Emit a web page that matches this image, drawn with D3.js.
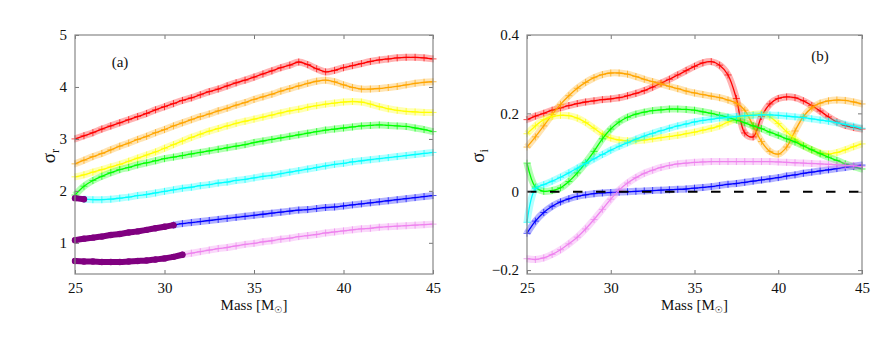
<!DOCTYPE html>
<html>
<head>
<meta charset="utf-8">
<script src="https://cdn.jsdelivr.net/npm/d3@7"></script>
<style>
  body { margin: 0; background: #fff; }
  svg text { font-family: "Liberation Serif", "DejaVu Serif", "Times New Roman", serif; }
</style>
</head>
<body>
<svg id="chart" width="889" height="343"></svg>
<script>
// mass grid shared by all modes
const masses = [25, 25.5, 26, 26.5, 27, 27.5, 28, 28.5, 29, 29.5, 30, 30.5, 31, 31.5, 32, 32.5, 33, 33.5, 34, 34.5,
  35, 35.5, 36, 36.5, 37, 37.5, 38, 38.5, 39, 39.5, 40, 40.5, 41, 41.5, 42, 42.5, 43, 43.5, 44, 44.5, 45];

const xTicks = [25, 30, 35, 40, 45];
const realTicks = [1, 2, 3, 4, 5];
const imagTicks = [-0.2, 0, 0.2, 0.4];

const modeColors = ["#ff0000", "#ffa500", "#ffff00", "#00ff00", "#00ffff", "#0000ff", "#ee82ee"];
const stableColor = "#800080";

// sigma_r (panel a)
const redReal = [3.00, 3.06, 3.12, 3.19, 3.25, 3.31, 3.37, 3.43, 3.49, 3.56, 3.62, 3.68, 3.74, 3.79, 3.85, 3.91, 3.96, 4.02, 4.08, 4.13,
  4.19, 4.25, 4.31, 4.37, 4.42, 4.48, 4.43, 4.35, 4.29, 4.32, 4.37, 4.41, 4.45, 4.49, 4.52, 4.54, 4.56, 4.57, 4.57, 4.56, 4.54];
const orangeReal = [2.52, 2.59, 2.66, 2.72, 2.79, 2.86, 2.92, 2.99, 3.05, 3.12, 3.18, 3.25, 3.31, 3.37, 3.43, 3.48, 3.54, 3.59, 3.65, 3.70,
  3.76, 3.81, 3.86, 3.92, 3.97, 4.02, 4.07, 4.11, 4.13, 4.10, 4.04, 3.99, 3.96, 3.96, 3.97, 3.99, 4.01, 4.04, 4.07, 4.09, 4.10];
const yellowReal = [2.27, 2.31, 2.36, 2.41, 2.46, 2.51, 2.57, 2.63, 2.69, 2.75, 2.82, 2.89, 2.96, 3.03, 3.09, 3.15, 3.20, 3.25, 3.30, 3.34,
  3.38, 3.42, 3.46, 3.50, 3.54, 3.57, 3.61, 3.64, 3.67, 3.69, 3.71, 3.72, 3.71, 3.67, 3.62, 3.58, 3.55, 3.53, 3.52, 3.51, 3.51];
const greenReal = [1.92, 2.09, 2.20, 2.28, 2.35, 2.41, 2.45, 2.50, 2.54, 2.58, 2.62, 2.65, 2.68, 2.71, 2.74, 2.77, 2.80, 2.83, 2.86, 2.89,
  2.93, 2.96, 2.99, 3.02, 3.05, 3.08, 3.11, 3.14, 3.17, 3.19, 3.21, 3.23, 3.25, 3.26, 3.27, 3.26, 3.25, 3.24, 3.21, 3.18, 3.14];
const cyanReal = [1.86, 1.84, 1.83, 1.83, 1.84, 1.86, 1.88, 1.91, 1.93, 1.96, 1.99, 2.02, 2.05, 2.07, 2.10, 2.12, 2.15, 2.17, 2.20, 2.22,
  2.25, 2.28, 2.30, 2.33, 2.36, 2.39, 2.42, 2.45, 2.48, 2.51, 2.53, 2.56, 2.58, 2.60, 2.62, 2.64, 2.66, 2.68, 2.70, 2.72, 2.74];
const blueReal = [1.05, 1.08, 1.10, 1.12, 1.15, 1.17, 1.20, 1.22, 1.25, 1.28, 1.31, 1.34, 1.37, 1.39, 1.41, 1.43, 1.45, 1.47, 1.49, 1.51,
  1.53, 1.55, 1.57, 1.59, 1.61, 1.63, 1.64, 1.66, 1.68, 1.69, 1.71, 1.73, 1.75, 1.77, 1.79, 1.81, 1.83, 1.85, 1.87, 1.89, 1.91];
const violetReal = [0.65, 0.64, 0.64, 0.63, 0.63, 0.63, 0.64, 0.65, 0.66, 0.68, 0.70, 0.73, 0.77, 0.80, 0.83, 0.86, 0.89, 0.91, 0.94, 0.97,
  0.99, 1.02, 1.04, 1.07, 1.09, 1.12, 1.14, 1.16, 1.19, 1.21, 1.23, 1.25, 1.27, 1.28, 1.30, 1.31, 1.32, 1.33, 1.34, 1.35, 1.36];
// mass up to which each mode is drawn as stable (purple) in panel a
const stableUntil = [null, null, null, null, 25.5, 30.5, 31];

// sigma_i (panel b)
const redImag = [0.184, 0.193, 0.200, 0.208, 0.214, 0.220, 0.225, 0.229, 0.232, 0.235, 0.237, 0.240, 0.245, 0.251, 0.258, 0.267, 0.277, 0.287, 0.298, 0.309,
  0.320, 0.329, 0.332, 0.323, 0.298, 0.238, 0.150, 0.140, 0.192, 0.224, 0.238, 0.242, 0.240, 0.232, 0.220, 0.206, 0.191, 0.178, 0.169, 0.164, 0.160];
const orangeImag = [0.114, 0.140, 0.168, 0.197, 0.223, 0.245, 0.264, 0.279, 0.291, 0.299, 0.303, 0.303, 0.300, 0.294, 0.287, 0.281, 0.275, 0.269, 0.263, 0.257,
  0.252, 0.248, 0.244, 0.240, 0.234, 0.226, 0.208, 0.168, 0.128, 0.103, 0.096, 0.114, 0.155, 0.192, 0.214, 0.226, 0.232, 0.234, 0.233, 0.229, 0.224];
const yellowImag = [0.148, 0.168, 0.184, 0.192, 0.195, 0.194, 0.188, 0.177, 0.162, 0.147, 0.137, 0.132, 0.130, 0.130, 0.132, 0.135, 0.138, 0.141, 0.144, 0.148,
  0.152, 0.157, 0.162, 0.168, 0.178, 0.186, 0.192, 0.197, 0.199, 0.191, 0.174, 0.153, 0.134, 0.118, 0.107, 0.099, 0.096, 0.100, 0.107, 0.115, 0.122];
const greenImag = [0.073, 0.012, 0.001, 0.003, 0.010, 0.026, 0.048, 0.074, 0.103, 0.135, 0.160, 0.178, 0.190, 0.198, 0.203, 0.207, 0.209, 0.211, 0.211, 0.210,
  0.208, 0.204, 0.200, 0.195, 0.190, 0.183, 0.176, 0.168, 0.161, 0.152, 0.144, 0.135, 0.127, 0.117, 0.107, 0.097, 0.088, 0.080, 0.071, 0.064, 0.058];
const cyanImag = [-0.078, 0.008, 0.018, 0.027, 0.037, 0.048, 0.060, 0.072, 0.084, 0.095, 0.106, 0.116, 0.125, 0.134, 0.142, 0.149, 0.156, 0.162, 0.168, 0.173,
  0.178, 0.182, 0.185, 0.188, 0.190, 0.192, 0.194, 0.195, 0.196, 0.196, 0.195, 0.193, 0.191, 0.189, 0.186, 0.183, 0.180, 0.176, 0.172, 0.167, 0.162];
const blueImag = [-0.106, -0.075, -0.053, -0.037, -0.026, -0.018, -0.012, -0.008, -0.005, -0.003, -0.002, -0.001, 0.000, 0.001, 0.002, 0.003, 0.004, 0.005, 0.006, 0.007,
  0.009, 0.011, 0.013, 0.016, 0.019, 0.021, 0.024, 0.027, 0.030, 0.033, 0.036, 0.040, 0.043, 0.047, 0.050, 0.053, 0.056, 0.059, 0.062, 0.065, 0.068];
const violetImag = [-0.171, -0.173, -0.169, -0.160, -0.148, -0.133, -0.116, -0.095, -0.071, -0.045, -0.019, 0.004, 0.022, 0.036, 0.047, 0.055, 0.062, 0.067, 0.071, 0.073,
  0.075, 0.076, 0.077, 0.077, 0.077, 0.077, 0.077, 0.077, 0.077, 0.077, 0.076, 0.075, 0.074, 0.073, 0.072, 0.071, 0.070, 0.069, 0.067, 0.066, 0.064];

const realSeries = [redReal, orangeReal, yellowReal, greenReal, cyanReal, blueReal, violetReal];
const imagSeries = [redImag, orangeImag, yellowImag, greenImag, cyanImag, blueImag, violetImag];

const serif = "'Liberation Serif', 'DejaVu Serif', 'Times New Roman', serif";
const svg = d3.select("#chart");
const plotTop = 35, plotBottom = 274;

const drawPanel = (opts) => {
  const x = d3.scaleLinear().domain([25, 45]).range([opts.left, opts.right]);
  const y = d3.scaleLinear().domain(opts.yDomain).range([plotBottom, plotTop]);
  const g = svg.append("g");

  const line = d3.line()
    .x(function(d) { return x(d[0]); })
    .y(function(d) { return y(d[1]); })
    .curve(d3.curveCatmullRom.alpha(0.5));

  const plusPath = (d) => {
    const px = x(d[0]), py = y(d[1]), s = 3.5;
    return `M${px - s},${py}H${px + s}M${px},${py - s}V${py + s}`;
  };

  opts.series.forEach((vals, i) => {
    const pts = masses.map((m, j) => [m, vals[j]]);
    const cut = opts.stable ? opts.stable[i] : null;
    const unstable = cut === null ? pts : pts.filter(function(d) { return d[0] >= cut; });
    const stable = cut === null ? [] : pts.filter(function(d) { return d[0] <= cut; });
    const col = modeColors[i];
    const s = g.append("g").attr("class", "mode");

    s.append("path").datum(unstable)
      .attr("d", line).attr("fill", "none")
      .attr("stroke", col).attr("stroke-opacity", 0.3).attr("stroke-width", 7);
    s.selectAll("path.plus").data(unstable).enter().append("path")
      .attr("class", "plus").attr("d", plusPath)
      .attr("stroke", col).attr("stroke-opacity", 0.7).attr("stroke-width", 1);
    s.append("path").datum(unstable)
      .attr("d", line).attr("fill", "none")
      .attr("stroke", col).attr("stroke-width", 1.3);

    if (stable.length) {
      s.append("path").datum(stable)
        .attr("d", line).attr("fill", "none")
        .attr("stroke", stableColor).attr("stroke-width", 6)
        .attr("stroke-linecap", "round");
      s.selectAll("circle").data(stable).enter().append("circle")
        .attr("cx", function(d) { return x(d[0]); })
        .attr("cy", function(d) { return y(d[1]); })
        .attr("r", 3.2).attr("fill", stableColor);
    }
  });

  if (opts.zeroLine) {
    g.append("line")
      .attr("x1", opts.left).attr("x2", opts.right)
      .attr("y1", y(0)).attr("y2", y(0))
      .attr("stroke", "#000").attr("stroke-width", 2)
      .attr("stroke-dasharray", "9.5,13.5");
  }

  // frame and inward ticks on all four sides
  const axes = [
    [d3.axisBottom(x).tickValues(xTicks), `translate(0,${plotBottom})`, true],
    [d3.axisTop(x).tickValues(xTicks), `translate(0,${plotTop})`, false],
    [d3.axisLeft(y).tickValues(opts.yTicks).tickFormat(opts.yFormat), `translate(${opts.left},0)`, true],
    [d3.axisRight(y).tickValues(opts.yTicks), `translate(${opts.right},0)`, false]
  ];
  axes.forEach(function(a) {
    const ax = g.append("g").attr("transform", a[1])
      .call(a[0].tickSize(-4).tickPadding(8));
    ax.select(".domain").remove();
    ax.selectAll(".tick line").attr("stroke", "#777");
    ax.selectAll("text")
      .style("font-family", serif)
      .style("font-size", "15px").attr("fill", "#111");
    if (!a[2]) ax.selectAll("text").remove();
  });

  g.append("rect")
    .attr("x", opts.left).attr("y", plotTop)
    .attr("width", opts.right - opts.left).attr("height", plotBottom - plotTop)
    .attr("fill", "none").attr("stroke", "#888").attr("stroke-width", 1.2);

  const xl = g.append("text")
    .attr("x", (opts.left + opts.right) / 2).attr("y", 310)
    .attr("text-anchor", "middle").style("font-family", serif)
    .style("font-size", "15px").attr("fill", "#111");
  xl.append("tspan").text("Mass [M");
  xl.append("tspan").style("font-family", "'DejaVu Sans', sans-serif")
    .style("font-size", "9px").attr("dy", 3).text("☉");
  xl.append("tspan").attr("dy", -3).text("]");

  const yl = g.append("text")
    .attr("transform", `translate(${opts.yLabelX},156) rotate(-90)`)
    .attr("text-anchor", "middle").style("font-family", serif)
    .style("font-size", "19px").attr("fill", "#111");
  yl.append("tspan").text("σ");
  yl.append("tspan").style("font-size", "12px").attr("dy", 4).text(opts.sub);

  g.append("text")
    .attr("x", opts.tagX).attr("y", opts.tagY)
    .attr("text-anchor", "middle").style("font-family", serif)
    .style("font-size", "15px").attr("fill", "#111")
    .text(opts.tag);
};

drawPanel({
  left: 75, right: 433, yDomain: [0.4, 5], yTicks: realTicks,
  yFormat: d3.format("d"), series: realSeries, stable: stableUntil,
  yLabelX: 55, sub: "r", tag: "(a)", tagX: 120, tagY: 67, zeroLine: false
});

drawPanel({
  left: 527, right: 862, yDomain: [-0.21, 0.4], yTicks: imagTicks,
  yFormat: function(d) { return d === 0 ? "0" : d3.format(".1f")(d); },
  series: imagSeries, stable: null,
  yLabelX: 484, sub: "i", tag: "(b)", tagX: 820, tagY: 61, zeroLine: true
});
</script>
</body>
</html>
